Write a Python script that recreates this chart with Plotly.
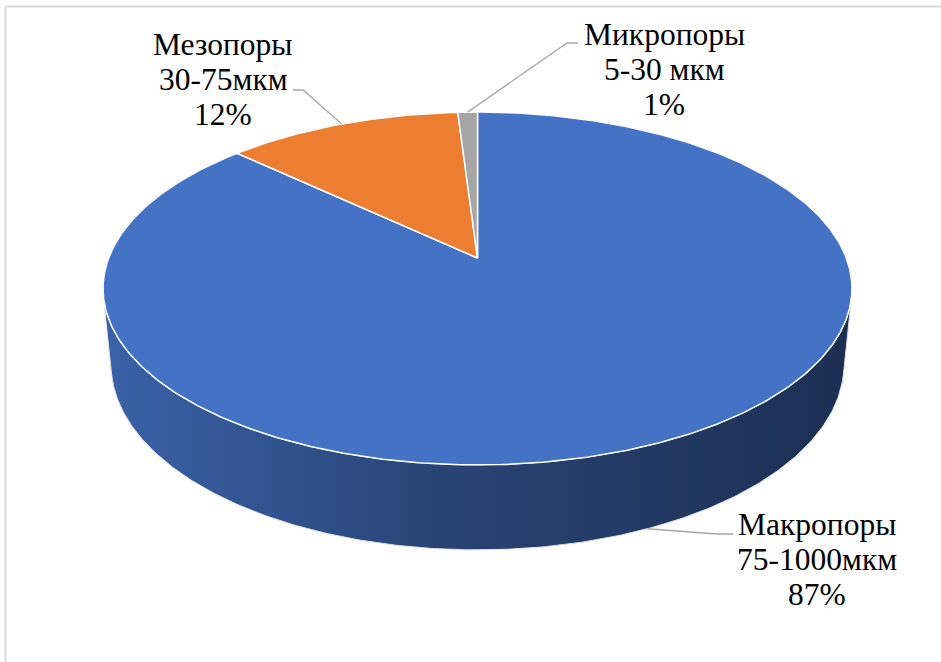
import math
import plotly.graph_objects as go

# ---------------- data ----------------
categories = ["Макропоры", "Мезопоры", "Микропоры"]
size_ranges = ["75-1000мкм", "30-75мкм", "5-30 мкм"]
values = [87, 12, 1]
pct_labels = ["87%", "12%", "1%"]
colors = ["#4472C4", "#ED7D31", "#A5A5A5"]

# ---------------- layout / style constants ----------------
W, H = 941, 662
CX, CY = 477.5, 258.0          # screen position of pie centre (top face)
F, D = 1891.0, 5.127           # perspective focal length / camera distance
PHI = math.radians(27.65)      # elevation
DEPTH = 0.234                  # pie thickness (in radius units)
FONT = "Liberation Serif, Times New Roman, serif"
FS = 31.5
LINE_GAP = 35
# label block: centre x, baseline of first line, leader elbow, leader end
label_layout = [
    dict(cx=817, base=535, elbow=(717, 534), end=(733, 534), ring="bottom"),
    dict(cx=223, base=55, elbow=(303, 90), end=(293, 90), ring="top"),
    dict(cx=664, base=45, elbow=(567, 43), end=(578, 43), ring="top"),
]


def proj(theta_deg, z):
    t = math.radians(theta_deg)
    u, v = math.sin(t), math.cos(t)
    depth = D + v * math.cos(PHI) - z * math.sin(PHI)
    x = CX + F * u / depth
    yup = F * (v * math.sin(PHI) + z * math.cos(PHI)) / depth
    return x, CY - yup


def arc(a, b, z, n=None):
    if n is None:
        n = max(4, int(abs(b - a) * 1.5))
    pts = [proj(a + (b - a) * i / n, z) for i in range(n + 1)]
    return [p[0] for p in pts], [p[1] for p in pts]


def shade(hexc, f):
    r, g, b = int(hexc[1:3], 16), int(hexc[3:5], 16), int(hexc[5:7], 16)
    return "rgb(%d,%d,%d)" % (r * f, g * f, b * f)


total = sum(values)
angles = []
acc = 0.0
for v in values:
    a0 = acc / total * 360
    acc += v
    angles.append((a0, acc / total * 360))

# visible side-wall range (silhouette generators)
c = -1.0 / (D * math.cos(PHI))
s_lo = math.degrees(math.acos(c))
s_hi = 360 - s_lo

fig = go.Figure()

# side walls
for (a0, a1), col in zip(angles, colors):
    lo, hi = max(a0, s_lo), min(a1, s_hi)
    if hi <= lo:
        continue
    tx, ty = arc(lo, hi, 0)
    bx, by = arc(hi, lo, -DEPTH)
    fig.add_trace(go.Scatter(
        x=tx + bx + [tx[0]], y=ty + by + [ty[0]], mode="lines", fill="toself",
        line=dict(color="#E0E0E0", width=1),
        fillgradient=dict(type="horizontal", colorscale=[
            [0, shade(col, 0.86)], [0.45, shade(col, 0.6)], [1, shade(col, 0.42)]]),
        hoverinfo="skip", showlegend=False))

# top faces
for (a0, a1), col, name in zip(angles, colors, categories):
    ax, ay = arc(a0, a1, 0)
    fig.add_trace(go.Scatter(
        x=[CX] + ax + [CX], y=[CY] + ay + [CY], mode="lines", fill="toself",
        fillcolor=col, line=dict(color="white", width=1.5),
        name=name, hoverinfo="name", showlegend=False))

# leader lines and labels
for i, ((a0, a1), lay) in enumerate(zip(angles, label_layout)):
    mid = (a0 + a1) / 2
    z = -DEPTH if lay["ring"] == "bottom" else 0
    px, py = proj(mid, z)
    fig.add_trace(go.Scatter(
        x=[px, lay["elbow"][0], lay["end"][0]], y=[py, lay["elbow"][1], lay["end"][1]],
        mode="lines", line=dict(color="#A6A6A6", width=1.3),
        hoverinfo="skip", showlegend=False))
    for j, txt in enumerate([categories[i], size_ranges[i], pct_labels[i]]):
        fig.add_annotation(
            x=lay["cx"], y=lay["base"] + j * LINE_GAP - 0.335 * FS,
            text=txt, showarrow=False, xanchor="center", yanchor="middle",
            font=dict(family=FONT, size=FS, color="black"))

# chart frame (top and left edges visible)
fig.add_shape(type="line", x0=5.5, y0=6.5, x1=W + 5, y1=6.5,
              line=dict(color="#D9D9D9", width=2))
fig.add_shape(type="line", x0=5.5, y0=6.5, x1=5.5, y1=H + 5,
              line=dict(color="#D9D9D9", width=2))

fig.update_layout(
    width=W, height=H, margin=dict(l=0, r=0, t=0, b=0),
    paper_bgcolor="white", plot_bgcolor="white",
    xaxis=dict(range=[0, W], visible=False, fixedrange=True),
    yaxis=dict(range=[H, 0], visible=False, fixedrange=True),
    showlegend=False,
)

fig.write_html("out.html", config={"displayModeBar": False},
               post_script="document.body.style.margin='0';document.body.style.overflow='hidden';")
